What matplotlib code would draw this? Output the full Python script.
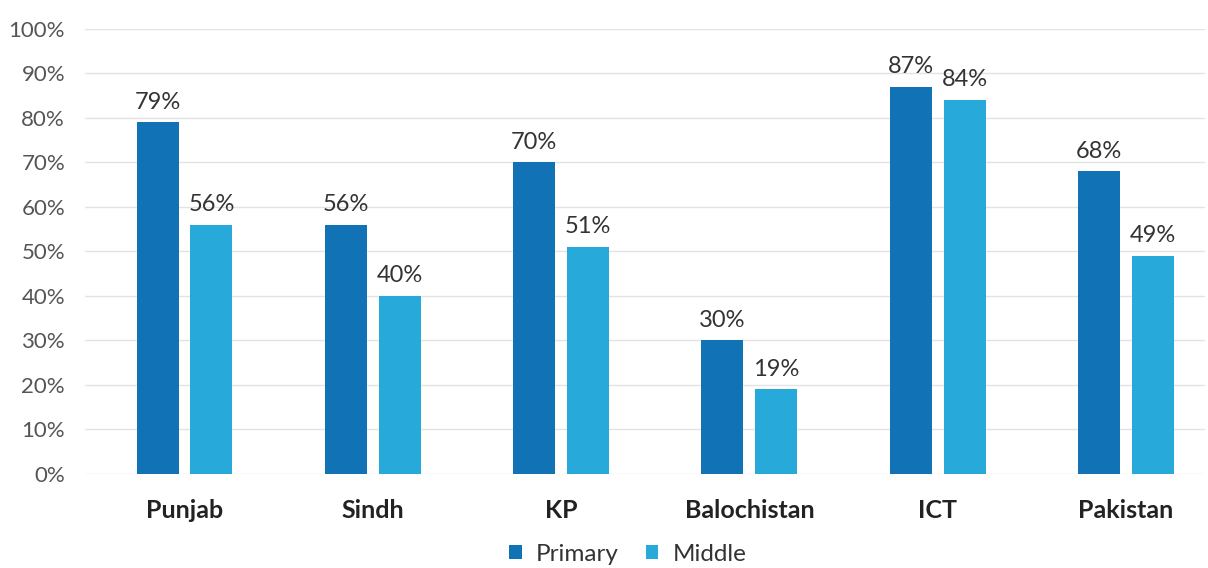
import numpy as np
import matplotlib.pyplot as plt

# data
regions = ['Punjab', 'Sindh', 'KP', 'Balochistan', 'ICT', 'Pakistan']
primary = [79, 56, 70, 30, 87, 68]
middle = [56, 40, 51, 19, 84, 49]

c_primary = '#1172b6'
c_middle = '#27a9d9'

plt.rcParams['font.family'] = ['Lato', 'DejaVu Sans']

fig = plt.figure(figsize=(12.08, 5.68), dpi=100)
ax = fig.add_axes([0.070, 0.1655, 0.9275, 0.7835])

x = np.arange(len(regions))
w = 0.223
off = 0.143
b1 = ax.bar(x - off, primary, w, color=c_primary, label='Primary', zorder=2)
b2 = ax.bar(x + off, middle, w, color=c_middle, label='Middle', zorder=2)

for bars, vals in [(b1, primary), (b2, middle)]:
    for b, v in zip(bars, vals):
        ax.text(b.get_x() + b.get_width() / 2, v + 2.2, f'{v}%',
                ha='center', va='bottom', fontsize=17, color='#333333')

ax.set_ylim(0, 100)
ax.set_xlim(-0.531, 5.42)
ax.set_yticks(range(0, 101, 10))
ax.set_yticklabels([f'{t}%' for t in range(0, 101, 10)], fontsize=16, color='#555555')
ax.set_xticks(x)
ax.set_xticklabels(regions, fontsize=18, fontweight='bold', color='#222222')
ax.tick_params(axis='both', length=0)
ax.tick_params(axis='x', pad=18)
ax.tick_params(axis='y', pad=14)
ax.grid(axis='y', color='#e3e3e3', linewidth=1, zorder=0)
for s in ax.spines.values():
    s.set_visible(False)

ax.legend(loc='upper center', bbox_to_anchor=(0.485, -0.13), ncol=2, frameon=False,
          fontsize=17.5, handlelength=0.5, handleheight=0.5, handletextpad=0.6,
          columnspacing=1.1, labelcolor='#333333', borderpad=0)

fig.savefig('out.png', dpi=100)
